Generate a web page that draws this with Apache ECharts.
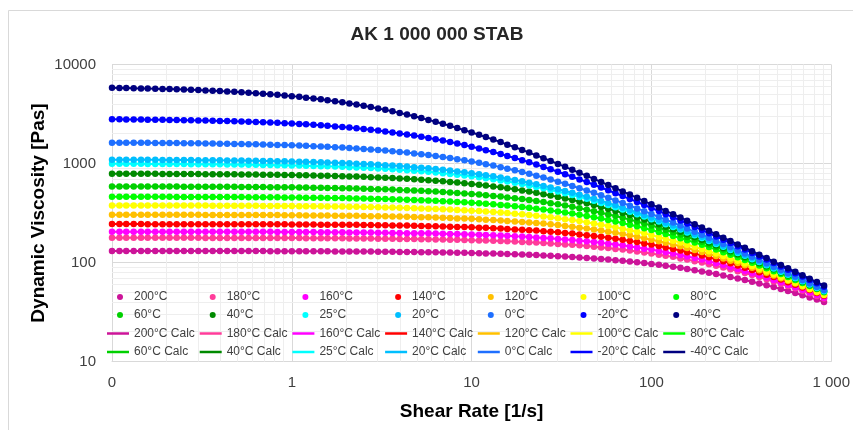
<!DOCTYPE html>
<html>
<head>
<meta charset="UTF-8">
<title>AK 1 000 000 STAB</title>
<script src="https://cdn.jsdelivr.net/npm/echarts@6/dist/echarts.min.js"></script>
<style>
    html, body { margin: 0; padding: 0; background: #fff; }
    #main { width: 853px; height: 430px; }
</style>
</head>
<body>
<div id="main"></div>
<script>
    // shear rate [1/s], 25 points per decade
    var shearRate = [0.1,0.11,0.12,0.132,0.145,0.158,0.174,0.191,0.209,0.229,0.251,0.275,0.302,0.331,0.363,0.398,0.437,0.479,0.525,0.575,0.631,0.692,0.759,0.832,0.912,
        1,1.1,1.2,1.32,1.45,1.58,1.74,1.91,2.09,2.29,2.51,2.75,3.02,3.31,3.63,3.98,4.37,4.79,5.25,5.75,6.31,6.92,7.59,8.32,9.12,
        10,11,12,13.2,14.5,15.8,17.4,19.1,20.9,22.9,25.1,27.5,30.2,33.1,36.3,39.8,43.7,47.9,52.5,57.5,63.1,69.2,75.9,83.2,91.2,
        100,110,120,132,145,158,174,191,209,229,251,275,302,331,363,398,437,479,525,575,631,692,759,832,912];

    var temps = ['200°C','180°C','160°C','140°C','120°C','100°C','80°C','60°C','40°C','25°C','20°C','0°C','-20°C','-40°C'];

    // dynamic viscosity [Pas] per temperature
    var visc200 = [130.9,130.8,130.8,130.8,130.8,130.8,130.8,130.8,130.7,130.7,130.7,130.7,130.6,130.6,130.6,130.6,130.5,130.5,130.4,130.4,
        130.3,130.3,130.2,130.2,130.1,130.0,130.0,129.9,129.8,129.7,129.6,129.5,129.4,129.2,129.1,128.9,128.8,128.6,128.4,128.2,
        128.0,127.7,127.5,127.2,126.9,126.6,126.2,125.9,125.5,125.1,124.6,124.1,123.6,123.0,122.4,121.8,121.1,120.4,119.6,118.8,
        117.9,116.9,115.9,114.9,113.7,112.6,111.3,110.0,108.6,107.1,105.5,103.9,102.2,100.4,98.6,96.7,94.7,92.6,90.5,88.3,
        86.0,83.7,81.3,78.9,76.5,74.0,71.5,69.0,66.5,63.9,61.4,58.9,56.4,53.9,51.5,49.1,46.7,44.4,42.2,40.0];
    var visc180 = [178,178,178,178,178,178,178,178,178,178,178,178,178,177,177,177,177,177,177,177,
        177,177,177,177,177,177,177,176,176,176,176,176,176,175,175,175,175,174,174,174,
        173,173,173,172,172,171,171,170,170,169,168,167,167,166,165,164,163,161,160,159,
        157,156,154,152,151,149,147,144,142,140,137,135,132,129,126,123,120,117,114,110,
        107,103,99.8,96.2,92.6,89.0,85.4,81.8,78.2,74.7,71.2,67.8,64.4,61.1,57.9,54.8,51.8,48.8,46.0,43.3];
    var visc160 = [205,205,205,205,205,205,205,205,205,204,204,204,204,204,204,204,204,204,204,204,
        204,204,204,203,203,203,203,203,203,202,202,202,202,201,201,201,201,200,200,199,
        199,198,198,197,197,196,195,194,194,193,192,191,190,188,187,186,184,183,181,179,
        177,176,173,171,169,166,164,161,158,155,152,149,145,142,138,135,131,127,123,119,
        115,111,107,103,98.3,94.2,90.1,86.0,82.0,78.1,74.2,70.4,66.7,63.1,59.6,56.3,53.0,49.9,46.9,44.0];
    var visc140 = [245,245,245,245,245,244,244,244,244,244,244,244,244,244,244,244,244,244,244,243,
        243,243,243,243,243,242,242,242,242,241,241,241,240,240,240,239,239,238,238,237,
        236,236,235,234,233,232,231,230,229,228,227,225,224,222,220,218,216,214,212,210,
        207,205,202,199,196,192,189,185,182,178,174,170,165,161,156,152,147,142,137,132,
        127,123,118,113,108,103,98.0,93.3,88.6,84.1,79.7,75.4,71.2,67.2,63.3,59.6,56.0,52.6,49.3,46.2];
    var visc120 = [303,303,303,303,303,303,303,303,303,303,303,303,303,302,302,302,302,302,302,301,
        301,301,301,301,300,300,300,299,299,298,298,297,297,296,296,295,294,293,293,292,
        291,290,288,287,286,284,283,281,279,278,276,273,271,269,266,263,260,257,254,250,
        247,243,239,234,230,225,221,216,210,205,200,194,188,182,176,170,164,158,152,146,
        140,134,128,122,116,110,104,98.9,93.6,88.4,83.4,78.6,74.0,69.5,65.3,61.2,57.3,53.7,50.2,46.9];
    var visc100 = [377,377,377,377,377,377,377,376,376,376,376,376,376,376,375,375,375,375,374,374,
        374,373,373,372,372,372,371,370,370,369,368,368,367,366,365,364,363,361,360,359,
        357,355,354,352,350,347,345,343,340,337,334,331,327,324,320,316,311,307,302,297,
        292,286,280,274,268,262,255,248,241,234,227,219,212,204,197,189,181,174,166,159,
        151,144,137,130,123,116,110,104,97.7,92.0,86.4,81.2,76.1,71.3,66.7,62.4,58.3,54.4,50.7,47.3];
    var visc80 = [462,462,462,461,461,461,461,461,461,460,460,460,460,459,459,459,458,458,458,457,
        457,456,456,455,454,454,453,452,451,450,449,448,447,446,444,443,441,439,437,435,
        433,431,428,426,423,420,416,413,409,405,401,396,392,387,381,376,370,364,357,350,
        343,336,328,320,312,304,295,287,278,269,260,250,241,232,222,213,203,194,185,176,
        168,159,151,143,135,127,120,113,106,99.4,93.2,87.3,81.7,76.4,71.4,66.6,62.1,57.9,53.9,50.2];
    var visc60 = [587,587,587,586,586,586,586,585,585,585,584,584,584,583,583,582,582,581,580,580,
        579,578,577,576,575,574,573,572,570,569,567,565,563,561,559,556,554,551,548,545,
        541,538,534,530,525,520,515,510,504,498,492,485,478,470,463,454,446,437,427,418,
        408,397,387,376,365,353,342,330,318,306,295,283,271,259,247,236,224,213,202,192,
        181,171,162,152,143,135,126,119,111,104,97.2,90.8,84.8,79.0,73.7,68.6,63.8,59.4,55.2,51.3];
    var visc40 = [788,788,788,787,787,786,786,785,785,784,784,783,782,781,780,779,778,777,776,775,
        773,772,770,768,766,764,762,760,757,754,751,748,745,741,737,733,728,723,718,712,
        706,700,693,686,678,670,661,652,643,633,622,611,599,587,575,562,548,534,520,505,
        490,475,460,444,428,412,396,380,364,348,332,317,302,287,272,258,244,230,217,205,
        193,181,170,159,149,140,131,122,114,106,99.1,92.3,85.9,79.8,74.2,68.9,64.0,59.4,55.1,51.1];
    var visc25 = [994,993,993,992,992,991,990,989,989,988,987,985,984,983,982,980,978,977,975,973,
        970,968,965,962,959,956,953,949,945,940,936,931,925,919,913,906,899,892,884,875,
        866,856,846,835,824,811,799,785,771,757,742,726,709,692,675,657,638,619,600,580,
        561,540,520,500,480,460,440,420,400,381,362,343,325,308,291,274,259,243,229,215,
        201,189,177,165,154,144,134,125,117,108,101,93.7,87.0,80.8,75.0,69.5,64.5,59.8,55.4,51.3];
    var visc20 = [1093,1092,1092,1091,1090,1089,1088,1087,1086,1085,1084,1083,1081,1080,1078,1076,1074,1072,1070,1067,
        1065,1062,1059,1055,1052,1048,1044,1039,1034,1029,1024,1018,1011,1004,997,989,981,972,962,952,
        942,930,918,906,893,879,864,848,832,816,798,780,761,742,722,702,681,660,638,617,
        594,572,550,528,506,483,462,440,419,398,378,358,339,320,302,284,268,252,236,221,
        207,194,182,170,158,148,138,128,119,111,103,95.7,88.9,82.5,76.5,70.9,65.7,60.9,56.4,52.2];
    var visc0 = [1624,1623,1621,1620,1618,1616,1614,1612,1610,1607,1604,1601,1598,1595,1591,1587,1583,1578,1573,1568,
        1562,1556,1549,1542,1534,1526,1517,1507,1497,1486,1475,1462,1449,1435,1420,1404,1387,1369,1351,1331,
        1310,1288,1265,1241,1216,1190,1163,1135,1107,1077,1047,1015,984,952,919,886,853,820,787,754,
        721,688,656,625,593,563,533,505,477,450,424,399,375,352,330,309,289,271,253,236,
        220,205,191,178,165,154,143,132,123,114,106,98.0,90.8,84.1,77.9,72.1,66.7,61.7,57.0,52.7];
    var viscM20 = [2795,2791,2787,2783,2778,2773,2768,2762,2756,2749,2741,2733,2725,2715,2705,2694,2683,2670,2657,2643,
        2627,2611,2593,2574,2554,2532,2509,2485,2459,2431,2402,2371,2339,2304,2268,2230,2190,2149,2106,2061,
        2014,1966,1916,1865,1812,1759,1704,1648,1592,1535,1478,1420,1362,1305,1248,1192,1136,1081,1028,975,
        924,874,826,779,734,691,650,610,572,536,501,469,438,409,381,355,331,308,286,266,
        247,229,213,197,183,170,157,146,135,125,115,107,98.8,91.3,84.5,78.1,72.1,66.7,61.6,56.9];
    var viscM40 = [5807,5791,5774,5756,5737,5715,5692,5668,5641,5613,5583,5550,5515,5478,5438,5395,5350,5301,5249,5195,
        5137,5075,5009,4941,4868,4792,4712,4628,4540,4449,4354,4255,4153,4048,3940,3829,3715,3600,3482,3363,
        3242,3122,3000,2878,2758,2637,2518,2400,2285,2171,2060,1952,1847,1745,1646,1551,1460,1372,1288,1208,
        1132,1059,991,925,863,805,751,699,650,605,562,522,485,450,417,387,359,332,308,285,
        264,244,226,209,193,178,165,152,141,130,120,111,102,94.6,87.4,80.7,74.5,68.7,63.4,58.6];

    var viscosity = [visc200, visc180, visc160, visc140, visc120, visc100, visc80,
        visc60, visc40, visc25, visc20, visc0, viscM20, viscM40];

    var colors = ['#cc1499','#ff3c9a','#ff00ff','#ff0000','#ffc000','#ffff00','#00ff00',
        '#00d000','#008a00','#00ffff','#00bfff','#1e6fff','#0000ff','#000080'];

    var font = 'Liberation Sans, Arial, sans-serif';

    // light minor grid (2..9 in every decade)
    var minorX = [], minorY = [];
    [0.1, 1, 10, 100].forEach(function (d) {
        for (var m = 2; m <= 9; m++) minorX.push(+(m * d).toPrecision(2));
    });
    [10, 100, 1000].forEach(function (d) {
        for (var m = 2; m <= 9; m++) minorY.push(m * d);
    });
    var minorLines = minorX.map(function (v) { return { xAxis: v }; })
        .concat(minorY.map(function (v) { return { yAxis: v }; }));

    var series = [{
        type: 'line',
        name: 'grid',
        data: [],
        silent: true,
        z: 1,
        markLine: {
            z: 1,
            silent: true,
            symbol: 'none',
            animation: false,
            label: { show: false },
            lineStyle: { color: '#eeeeee', type: 'solid', width: 1 },
            data: minorLines
        }
    }];

    temps.forEach(function (t, i) {
        series.push({
            type: 'line',
            name: t + ' Calc',
            data: shearRate.map(function (x, k) { return [x, viscosity[i][k]]; }),
            showSymbol: false,
            symbol: 'none',
            lineStyle: { width: 2, color: colors[i] },
            itemStyle: { color: colors[i] },
            z: 3
        });
    });
    temps.forEach(function (t, i) {
        series.push({
            type: 'scatter',
            name: t,
            data: shearRate.map(function (x, k) { return [x, viscosity[i][k]]; }),
            symbolSize: 6.5,
            itemStyle: { color: colors[i], opacity: 1 },
            z: 4
        });
    });

    // one small legend per entry so the 7 columns line up like the original
    function legendItem(name, left, top, icon, w, h, pad) {
        return {
            data: [name],
            left: left,
            top: top,
            padding: 0,
            itemWidth: w,
            itemHeight: h,
            icon: icon,
            selectedMode: false,
            textStyle: { fontFamily: font, fontSize: 12, color: '#404040', padding: [0, 0, 0, pad] }
        };
    }
    var legends = [];
    temps.forEach(function (t, i) {
        var col = i % 7, row = Math.floor(i / 7);
        legends.push(legendItem(t, 117 + 92.7 * col, [291, 309][row], 'circle', 6, 6, 6));
        legends.push(legendItem(t + ' Calc', 107 + 92.7 * col, [327.5, 346][row], 'rect', 22, 2.5, 0));
    });

    var myChart = echarts.init(document.getElementById('main'));
    var option = {
        animation: false,
        backgroundColor: '#fff',
        graphic: [{
            type: 'rect',
            silent: true,
            shape: { x: 8.5, y: 10.5, width: 870, height: 430 },
            style: { fill: 'none', stroke: '#d9d9d9', lineWidth: 1 }
        }, {
            type: 'text',
            x: 437,
            y: 35,
            style: {
                text: 'AK 1 000 000 STAB',
                font: 'bold 19px ' + font,
                fill: '#262626',
                align: 'center',
                verticalAlign: 'middle'
            }
        }],
        grid: { left: 112, right: 21, top: 64.5, bottom: 68.5 },
        legend: legends,
        xAxis: {
            type: 'log',
            logBase: 10,
            min: 0.1,
            max: 1000,
            name: 'Shear Rate [1/s]',
            nameLocation: 'middle',
            nameGap: 41,
            nameMoveOverlap: false,
            nameTextStyle: { fontFamily: font, fontSize: 19, fontWeight: 'bold', color: '#000' },
            axisLine: { show: true, lineStyle: { color: '#d9d9d9' } },
            axisTick: { show: false },
            axisLabel: {
                fontFamily: font, fontSize: 15, color: '#404040', margin: 14,
                formatter: function (v) {
                    if (v < 1) return '0';
                    if (v >= 1000) return '1 000';
                    return String(Math.round(v));
                }
            },
            splitLine: { show: true, lineStyle: { color: '#d9d9d9' } }
        },
        yAxis: {
            type: 'log',
            logBase: 10,
            min: 10,
            max: 10000,
            name: 'Dynamic Viscosity [Pas]',
            nameLocation: 'middle',
            nameGap: 64,
            nameMoveOverlap: false,
            nameTextStyle: { fontFamily: font, fontSize: 19, fontWeight: 'bold', color: '#000' },
            axisLine: { show: true, lineStyle: { color: '#d9d9d9' } },
            axisTick: { show: false },
            axisLabel: {
                fontFamily: font, fontSize: 15, color: '#404040', margin: 16,
                formatter: function (v) { return String(Math.round(v)); }
            },
            splitLine: { show: true, lineStyle: { color: '#d9d9d9' } }
        },
        series: series
    };

    myChart.setOption(option);
</script>
</body>
</html>
